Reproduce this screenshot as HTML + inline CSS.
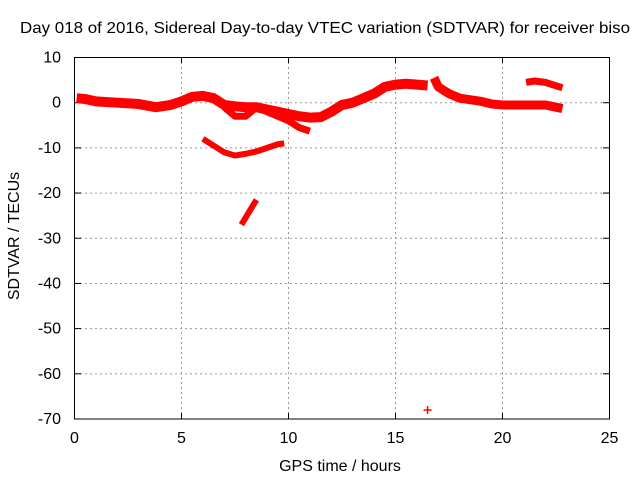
<!DOCTYPE html>
<html><head><meta charset="utf-8"><style>
body{margin:0;background:#fff;}
svg text{font-family:"Liberation Sans",sans-serif;font-size:16px;fill:#000;}
</style></head><body>
<svg id="chart" width="640" height="480" viewBox="0 0 640 480" xmlns="http://www.w3.org/2000/svg">
<rect width="640" height="480" fill="#fff"/>
<text x="20" y="33" textLength="610" lengthAdjust="spacingAndGlyphs">Day 018 of 2016, Sidereal Day-to-day VTEC variation (SDTVAR) for receiver biso</text>
<g id="grid"></g><g id="ticks"></g><g id="series"></g>
<rect x="74.5" y="57.5" width="535" height="361.5" fill="none" stroke="#000" stroke-width="1"/>
<text x="340" y="471" text-anchor="middle">GPS time / hours</text>
<text transform="translate(19,236) rotate(-90)" text-anchor="middle">SDTVAR / TECUs</text>
</svg>
<script>
const xTicks=[0,5,10,15,20,25];
const yTicks=[10,0,-10,-20,-30,-40,-50,-60,-70];
const mainH=[0.1,0.5,1,2,3,3.8,4.5,5,5.5,6,6.5,7,7.5,8,8.5,9,9.5,10,10.5,11,11.5,12,12.5,13,13.5,14,14.5,15,15.5,16,16.5];
const mainV=[1,0.8,0.3,0,-0.3,-1,-0.5,0.3,1.3,1.5,1,-0.5,-0.8,-1,-1,-1.5,-2,-2.5,-3,-3.3,-3.2,-2,-0.5,0,1,2,3.5,4,4.2,4,3.8];
const tailH=[16.8,17,17.5,18,19,19.5,20,21,22,22.8];
const tailV=[5.5,3.5,2,1,0.3,-0.3,-0.5,-0.5,-0.5,-1.3];
const branchH=[7,7.5,8,8.5,9,9.5,10,10.5,11];
const branchV=[-1,-3,-3,-1,-2,-3,-4,-5.5,-6.3];
const lowH=[6,6.5,7,7.5,8,8.5,9,9.5,9.8];
const lowV=[-8,-9.5,-11,-11.7,-11.3,-10.8,-10,-9.2,-9];
const diagH=[7.8,8.5];
const diagV=[-27,-21.5];
const upH=[21.1,21.5,22,22.8];
const upV=[4.5,4.8,4.5,3.3];
const outlierH=[16.5];
const outlierV=[-68];
const X=h=>74.5+h*535/25;
const Y=v=>57.5+(10-v)*361.5/80;
const NS='http://www.w3.org/2000/svg';
function mk(tag,attrs,parent){const e=document.createElementNS(NS,tag);for(const k in attrs)e.setAttribute(k,attrs[k]);parent.appendChild(e);return e;}
const grid=document.getElementById('grid'),ticks=document.getElementById('ticks'),ser=document.getElementById('series');
xTicks.forEach(t=>{
 if(t>0&&t<25){const l=mk('line',{x1:X(t),x2:X(t),y1:57,y2:419,stroke:'#999','stroke-dasharray':'2,3'},grid);
 
 }
 mk('line',{x1:X(t),x2:X(t),y1:419,y2:413,stroke:'#000'},ticks);
 mk('line',{x1:X(t),x2:X(t),y1:57,y2:63,stroke:'#000'},ticks);
 const tx=mk('text',{x:X(t),y:443,'text-anchor':'middle'},ticks);tx.textContent=t;
 
 
});
yTicks.forEach(t=>{
 if(t<10&&t>-70){const l=mk('line',{x1:75,x2:609,y1:Y(t),y2:Y(t),stroke:'#999','stroke-dasharray':'2,3'},grid);
 
 }
 mk('line',{x1:75,x2:81,y1:Y(t),y2:Y(t),stroke:'#000'},ticks);
 mk('line',{x1:609,x2:603,y1:Y(t),y2:Y(t),stroke:'#000'},ticks);
 const tx=mk('text',{x:61,y:Y(t)+5,'text-anchor':'end'},ticks);tx.textContent=t;
 
 
});
function line(H,V,name,w){
 const p=mk('polyline',{points:H.map((h,i)=>X(h)+','+Y(V[i])).join(' '),fill:'none',stroke:'#f00','stroke-width':w,'stroke-linejoin':'round','stroke-linecap':'butt'},ser);
 
 
}
line(mainH,mainV,'series-main',10);
line(tailH,tailV,'series-tail',9);
line(branchH,branchV,'series-branch',7);
line(lowH,lowV,'series-low',6);
line(diagH,diagV,'series-diagonal',6);
line(upH,upV,'series-upper',7);
outlierH.forEach((h,i)=>{
 const g=mk('path',{d:`M${X(h)-4},${Y(outlierV[i])}h8M${X(h)},${Y(outlierV[i])-4}v8`,stroke:'#f00','stroke-width':1.5},ser);
 
 
});
</script>
</body></html>
